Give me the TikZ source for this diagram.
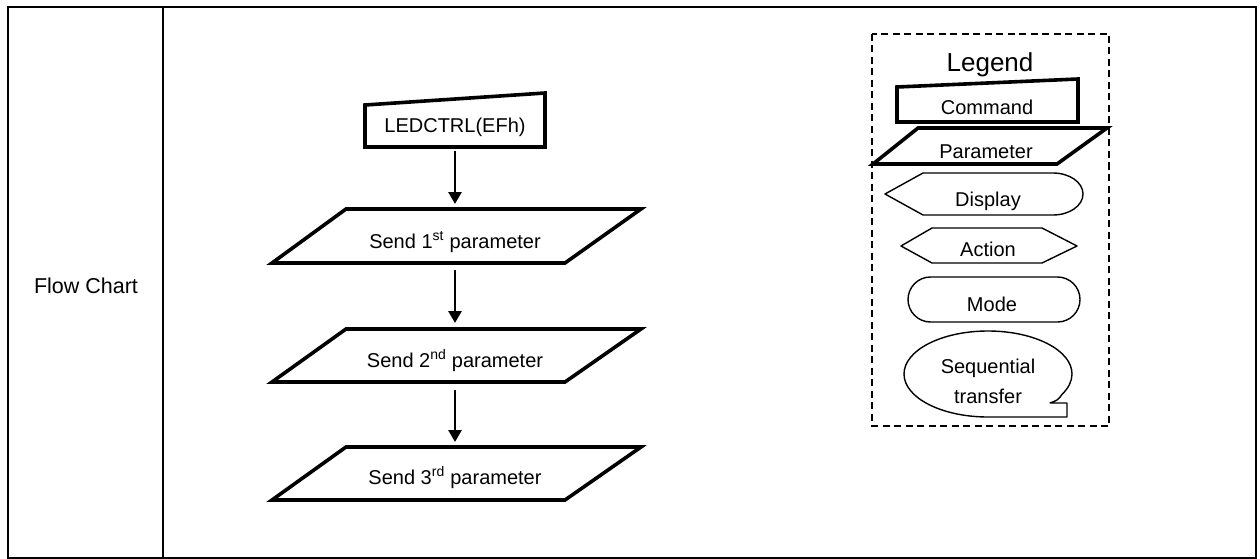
\documentclass[tikz,border=0pt]{standalone}
\usepackage{fontspec}
\setmainfont{Liberation Sans}
\usetikzlibrary{arrows.meta}
\tikzset{
  thickshape/.style={line width=3.6pt, line join=miter},
  thinshape/.style={line width=1.4pt, line join=round},
  frame/.style={line width=2.6pt},
  flowarrow/.style={line width=2.8pt, -{Triangle[length=12pt,width=13pt]}},
  lbl/.style={anchor=base, inner sep=0pt, font=\fontsize{20}{22}\selectfont},
  legendtitle/.style={anchor=base, inner sep=0pt, font=\fontsize{26}{28}\selectfont},
  legendbox/.style={line width=1.6pt, dash pattern=on 7pt off 4.5pt},
}
\begin{document}
\begin{tikzpicture}[x=1pt,y=-1pt]
\useasboundingbox (0,0) rectangle (1260,559);
% outer table
\draw[frame] (8,7) rectangle (1256,558);
\draw[frame] (163,7) -- (163,558);
\node[lbl, font=\fontsize{21.5}{23}\selectfont] (fc) at (86,293) {Flow Chart};

% command box
\draw[thickshape] (365,105) -- (545,93) -- (545,147) -- (365,147) -- cycle;
\node[lbl] (cmd) at (455,132) {LEDCTRL(EFh)};
\coordinate (cmdb) at (455,151);

% parameters
\draw[thickshape] (272,263) -- (346,209) -- (641,209) -- (565,263) -- cycle;
\node[lbl] (p1) at (455,248) {Send 1\textsuperscript{st} parameter};
\coordinate (p1t) at (455,204);
\coordinate (p1b) at (455,270);

\draw[thickshape] (272,382) -- (346,329) -- (641,329) -- (565,382) -- cycle;
\node[lbl] (p2) at (455,367) {Send 2\textsuperscript{nd} parameter};
\coordinate (p2t) at (455,323);
\coordinate (p2b) at (455,390);

\draw[thickshape] (272,500) -- (346,447) -- (641,447) -- (565,500) -- cycle;
\node[lbl] (p3) at (455,484) {Send 3\textsuperscript{rd} parameter};
\coordinate (p3t) at (455,442);

\draw[flowarrow] (cmdb) -- (p1t);
\draw[flowarrow] (p1b) -- (p2t);
\draw[flowarrow] (p2b) -- (p3t);

% legend
\draw[legendbox] (872,34) rectangle (1109,426);
\node[legendtitle] (lg) at (990,72) {Legend};

\draw[thickshape] (897,87) -- (1078,79) -- (1078,122) -- (897,122) -- cycle;
\node[lbl] (lcmd) at (987,115) {Command};

\draw[thickshape] (873,164) -- (918,128) -- (1107,128) -- (1057,164) -- cycle;
\node[lbl] (lpar) at (986,158) {Parameter};

\draw[thinshape] (885,194) -- (923,173) -- (1053,173)
  arc[start angle=270, end angle=450, x radius=30, y radius=21]
  -- (923,215) -- cycle;
\node[lbl] (ldisp) at (988,206) {Display};

\draw[thinshape] (901,246) -- (932,228) -- (1042,228) -- (1077,246) -- (1042,263) -- (932,263) -- cycle;
\node[lbl] (lact) at (988,256) {Action};

\draw[thinshape, rounded corners=22.5pt] (908,277) rectangle (1080,322);
\node[lbl] (lmode) at (992,311) {Mode};

\draw[thinshape] (1067,403) -- (1067,417) -- (988,417)
  arc[start angle=90, end angle=388, x radius=84, y radius=43]
  .. controls (1058,400) .. (1050,403) -- cycle;
\node[lbl] (lseq1) at (988,373) {Sequential};
\node[lbl] (lseq2) at (988,403) {transfer};
\end{tikzpicture}
\end{document}
